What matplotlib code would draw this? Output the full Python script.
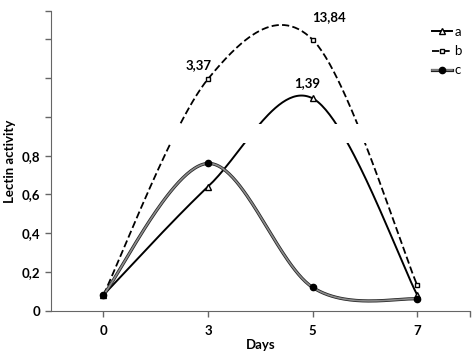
import numpy as np
import matplotlib
matplotlib.use('Agg')
import matplotlib.pyplot as plt
from matplotlib import patheffects as pe
from matplotlib.ticker import FixedLocator, FixedFormatter

# ---------------- data ----------------
days = ['0', '3', '5', '7']
a_vals = [0.08, 0.64, 1.39, 0.08]
b_vals = [0.08, 3.37, 13.84, 0.13]
c_vals = [0.08, 0.76, 0.12, 0.06]
point_labels = [('b', 1, '3,37'), ('b', 2, '13,84'), ('a', 2, '1,39')]

# broken y axis: linear up to 1, then squeezed
brk_val = [0.0, 1.0, 1.39, 3.37, 13.84, 30.0]
brk_pos = [0.0, 1.0, 1.096, 1.196, 1.399, 1.547]

def fwd(v):
    return np.interp(v, brk_val, brk_pos)

def inv(p):
    return np.interp(p, brk_pos, brk_val)

def smooth(vals, n=60):
    # excel like smoothed line, built in axis position space
    P = np.column_stack([np.arange(len(vals)), fwd(np.asarray(vals, float))])
    xs, ys = [], []
    t = np.linspace(0, 1, n)[:, None]
    for i in range(len(P) - 1):
        p0 = P[i - 1] if i > 0 else P[i]
        p3 = P[i + 2] if i + 2 < len(P) else P[i + 1]
        c1 = P[i] + (P[i + 1] - p0) / 6
        c2 = P[i + 1] - (p3 - P[i]) / 6
        seg = (1 - t)**3 * P[i] + 3 * (1 - t)**2 * t * c1 + 3 * (1 - t) * t**2 * c2 + t**3 * P[i + 1]
        xs.append(seg[:, 0]); ys.append(seg[:, 1])
    return np.concatenate(xs), inv(np.concatenate(ys))

plt.rcParams['font.family'] = ['Lato', 'DejaVu Sans']

fig = plt.figure(figsize=(4.72, 3.55), dpi=100)
ax = fig.add_axes([0.108, 0.125, 0.887, 0.844])
ax.set_yscale('function', functions=(fwd, inv))

x = np.arange(len(days))
gray_edge = [pe.Stroke(linewidth=2.3, foreground='#222222'), pe.Normal()]

xa, ya = smooth(a_vals)
ax.plot(xa, ya, color='black', lw=1.4, zorder=2)
ax.plot(x, a_vals, ls='none', marker='^', ms=4.5, mfc='white', mec='black', mew=1, zorder=4)

xb, yb = smooth(b_vals)
ax.plot(xb, yb, color='black', lw=1.3, dashes=(4, 1.8), zorder=2)
ax.plot(x, b_vals, ls='none', marker='s', ms=3.3, mfc='white', mec='black', mew=1, zorder=4)

xc, yc = smooth(c_vals)
ax.plot(xc, yc, color='#8c8c8c', lw=1.2, zorder=2, path_effects=gray_edge)
ax.plot(x, c_vals, ls='none', marker='o', ms=4.5, color='black', zorder=4)

# legend handles
ha, = ax.plot([], [], color='black', lw=1.4, marker='^', ms=4.5, mfc='white', mec='black')
hb, = ax.plot([], [], color='black', lw=1.3, dashes=(4, 1.8), marker='s', ms=3.3, mfc='white', mec='black')
hc1, = ax.plot([], [], color='#8c8c8c', lw=1.2, path_effects=gray_edge)
hc2, = ax.plot([], [], ls='none', marker='o', ms=4.5, color='black')
ax.legend([ha, hb, (hc1, hc2)], ['a', 'b', 'c'], loc='upper right', bbox_to_anchor=(1.01, 0.99),
          frameon=False, handlelength=1.5, handletextpad=0.2, labelspacing=0.55, fontsize=9.5)

# white band for the axis break
ax.axhspan(0.868, 0.966, xmin=0.004, xmax=1, color='white', zorder=3, lw=0)

series = {'a': a_vals, 'b': b_vals}
offsets = {'3,37': (-7, 10), '13,84': (12, 16), '1,39': (-4, 11)}
for s, i, txt in point_labels:
    ax.annotate(txt, (x[i], series[s][i]), xytext=offsets[txt], textcoords='offset points',
                ha='center', va='center', fontsize=9.5, fontweight='bold', zorder=5)

ax.set_xlim(-0.5, 3.5)
ax.set_ylim(0, 30)
ax.set_xticks(x)
ax.set_xticklabels(days, fontweight='bold', fontsize=9.5)
ax.set_xticks([3.5], minor=True)

ytick_pos = [0, 0.2, 0.4, 0.6, 0.8, 1.0, 1.2, 1.4, 1.547]
ax.yaxis.set_major_locator(FixedLocator(inv(np.array(ytick_pos))))
ax.yaxis.set_major_formatter(FixedFormatter(['0', '0,2', '0,4', '0,6', '0,8', '', '', '', '']))
ax.yaxis.set_minor_locator(FixedLocator([]))
for lab in ax.get_yticklabels():
    lab.set_fontweight('bold')
ax.tick_params(axis='y', labelsize=9.5, direction='out', length=4, color='#666666', width=1)
ax.tick_params(axis='x', which='both', direction='out', length=4, color='#666666', width=1, pad=6)

for sp in ['top', 'right']:
    ax.spines[sp].set_visible(False)
for sp in ['left', 'bottom']:
    ax.spines[sp].set_color('#666666')
    ax.spines[sp].set_zorder(6)

ax.set_xlabel('Days', fontweight='bold', fontsize=9.5, labelpad=2)
ax.set_ylabel('Lectin activity', fontweight='bold', fontsize=9.5, labelpad=4)

fig.savefig('out.png', dpi=100)
